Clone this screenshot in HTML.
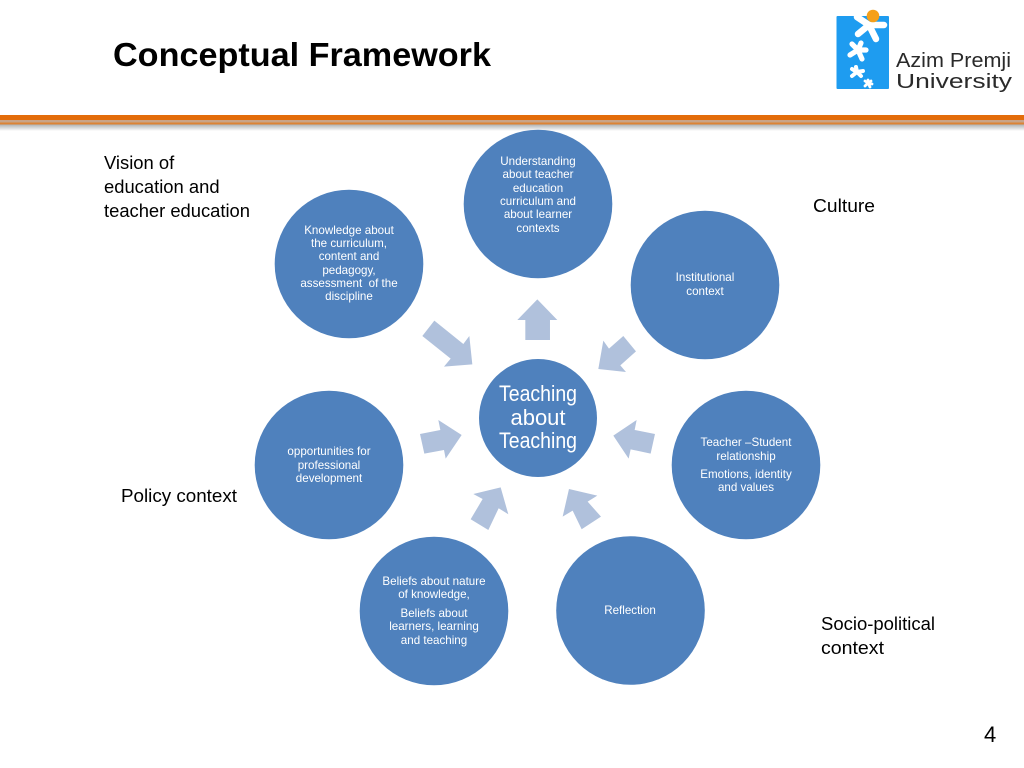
<!DOCTYPE html>
<html><head><meta charset="utf-8"><style>
html,body{margin:0;padding:0;background:#fff;width:1024px;height:768px;overflow:hidden}
svg{display:block}
text{font-family:"Liberation Sans",sans-serif}
.s{font-size:11.6px;fill:#fff;text-anchor:middle}
.l{font-size:18.4px;fill:#000}
.c{font-size:22px;fill:#fff;text-anchor:middle}
</style></head><body>
<svg width="1024" height="768" viewBox="0 0 1024 768" xmlns="http://www.w3.org/2000/svg">
<defs><linearGradient id="sh" x1="0" y1="0" x2="0" y2="1"><stop offset="0" stop-color="#a9acae"/><stop offset="1" stop-color="#fff"/></linearGradient></defs>
<rect width="1024" height="768" fill="#fff"/>
<text x="113" y="66" font-size="33" font-weight="bold" fill="#000" textLength="378" lengthAdjust="spacingAndGlyphs">Conceptual Framework</text>
<!-- rule -->
<rect x="0" y="124" width="1024" height="7" fill="url(#sh)"/>
<rect x="0" y="115" width="1024" height="5.5" fill="#e36c0a"/>
<rect x="0" y="120" width="1024" height="3" fill="#c9a488"/>
<rect x="0" y="122.5" width="1024" height="2" fill="#dc8335"/>
<!-- logo -->
<rect x="836.5" y="16" width="52.5" height="73" rx="1" fill="#1e9cf0"/>
<g stroke="#fff" stroke-linecap="round" fill="none">
<path d="M869 25L857 17M869 25L884 25M869 25L876 39M869 25L858 34" stroke-width="6.5"/>
<path d="M858 50L850 55M858 50L852 44M858 50L861 43M858 50L866 50M858 50L862 59" stroke-width="5.2"/>
<path d="M857 72L852 69M857 72L856 67M857 72L863 71M857 72L861 76M857 72L852 76" stroke-width="4"/>
<path d="M868 83L865 81M868 83L871 81M868 83L872 84M868 83L870 87M868 83L865 86M868 83L868 80" stroke-width="2.8"/>
</g>
<circle cx="873" cy="16" r="6.3" fill="#f5a01a"/>
<text x="896" y="67" font-size="20" fill="#2a2a2a" textLength="115" lengthAdjust="spacingAndGlyphs">Azim Premji</text>
<text x="896" y="88" font-size="20" fill="#2a2a2a" textLength="116" lengthAdjust="spacingAndGlyphs">University</text>
<!-- arrows -->
<g fill="#b0c1dc" transform="translate(400 290) scale(.3333)">
<polygon points="412,28 472,90 450,90 450,150 376,150 376,90 352,90"/>
<polygon points="103,92 67,138 152,206 132,230 217,223 208,138 190,162"/>
<polygon points="670,138 708,184 661,226 678,246 595,237 610,152 627,176"/>
<polygon points="765,432 752,491 692,478 686,506 640,437 710,390 704,420"/>
<polygon points="60,432 73,491 132,480 137,506 185,435 115,390 121,420"/>
<polygon points="302,592 325,673 296,655 265,720 212,688 248,627 220,612"/>
<polygon points="507,597 592,617 563,635 603,680 545,718 518,662 488,680"/>
</g>
<!-- circles -->
<g fill="#4f81bd">
<circle cx="538" cy="204" r="74.3"/>
<circle cx="705" cy="285" r="74.3"/>
<circle cx="746" cy="465" r="74.3"/>
<circle cx="630.5" cy="610.5" r="74.3"/>
<circle cx="434" cy="611" r="74.3"/>
<circle cx="329" cy="465" r="74.3"/>
<circle cx="349" cy="264" r="74.3"/>
<circle cx="538" cy="418" r="59"/>
</g>
<text class="c" x="538" y="401" textLength="78" lengthAdjust="spacingAndGlyphs">Teaching</text>
<text class="c" x="538" y="425">about</text>
<text class="c" x="538" y="448" textLength="78" lengthAdjust="spacingAndGlyphs">Teaching</text>
<text class="s" x="538" y="165">Understanding</text>
<text class="s" x="538" y="178">about teacher</text>
<text class="s" x="538" y="192">education</text>
<text class="s" x="538" y="205">curriculum and</text>
<text class="s" x="538" y="218">about learner</text>
<text class="s" x="538" y="232">contexts</text>
<text class="s" x="705" y="281">Institutional</text>
<text class="s" x="705" y="295">context</text>
<text class="s" x="746" y="446">Teacher –Student</text>
<text class="s" x="746" y="460">relationship</text>
<text class="s" x="746" y="478">Emotions, identity</text>
<text class="s" x="746" y="491">and values</text>
<text class="s" x="630" y="614">Reflection</text>
<text class="s" x="434" y="585">Beliefs about nature</text>
<text class="s" x="434" y="598">of knowledge,</text>
<text class="s" x="434" y="617">Beliefs about</text>
<text class="s" x="434" y="630">learners, learning</text>
<text class="s" x="434" y="644">and teaching</text>
<text class="s" x="329" y="455">opportunities for</text>
<text class="s" x="329" y="469">professional</text>
<text class="s" x="329" y="482">development</text>
<text class="s" x="349" y="234">Knowledge about</text>
<text class="s" x="349" y="247">the curriculum,</text>
<text class="s" x="349" y="260">content and</text>
<text class="s" x="349" y="274">pedagogy,</text>
<text class="s" x="349" y="287" xml:space="preserve" style="white-space:pre">assessment  of the</text>
<text class="s" x="349" y="300">discipline</text>
<text class="l" x="104" y="169">Vision of</text>
<text class="l" x="104" y="193">education and</text>
<text class="l" x="104" y="217" textLength="146">teacher education</text>
<text class="l" x="813" y="212" textLength="62" lengthAdjust="spacingAndGlyphs">Culture</text>
<text class="l" x="121" y="502" textLength="116" lengthAdjust="spacingAndGlyphs">Policy context</text>
<text class="l" x="821" y="630" textLength="114" lengthAdjust="spacingAndGlyphs">Socio-political</text>
<text class="l" x="821" y="654" textLength="63" lengthAdjust="spacingAndGlyphs">context</text>
<text x="984" y="742" font-size="22" fill="#000">4</text>
</svg>
</body></html>
